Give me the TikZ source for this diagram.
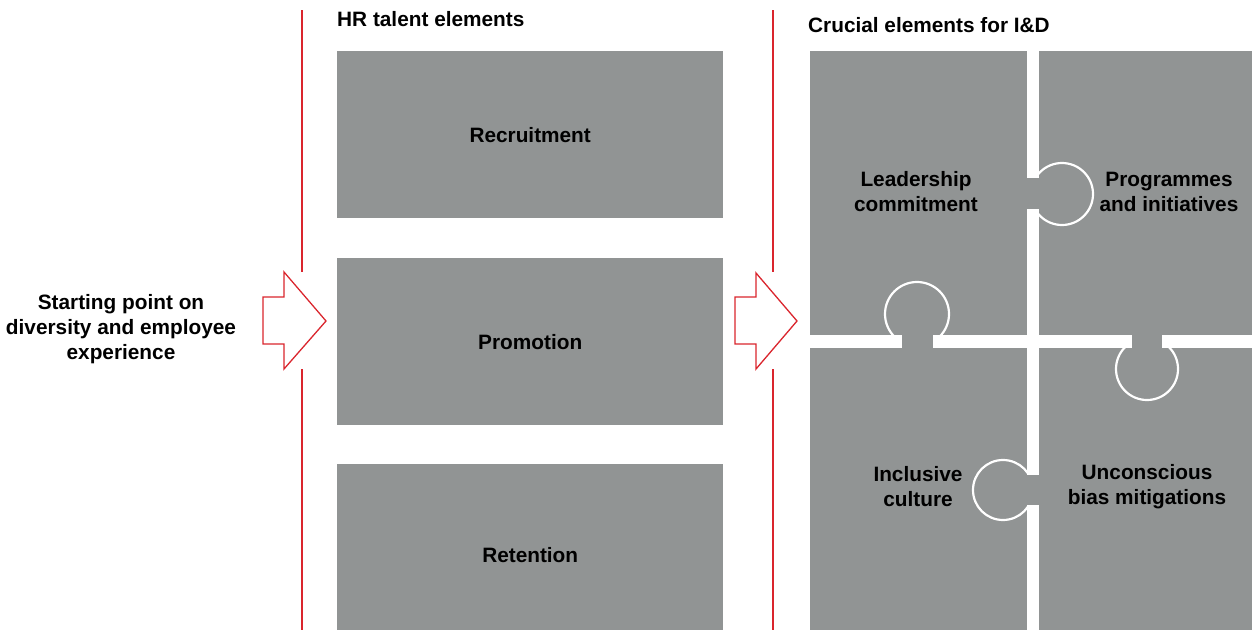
\documentclass[tikz,border=0pt]{standalone}
\usepackage{fontspec}
\setmainfont{Liberation Sans}

\definecolor{boxgrey}{RGB}{145,148,148}
\definecolor{linered}{RGB}{218,37,45}

\begin{document}
\begin{tikzpicture}[
            x = 1pt, y = -1pt, % pixel units, y pointing down
            font = \bfseries\fontsize{20.8}{25}\selectfont,
            line join = miter % sharp arrow corners
        ]

        \tikzstyle{hrbox}=[
            fill = boxgrey,
            anchor = north west,
            inner sep = 0pt,
            minimum width = 386pt,
            minimum height = 167pt
        ]
        \tikzstyle{piece}=[
            fill = boxgrey,
            anchor = north west,
            inner sep = 0pt,
            minimum height = 284pt
        ]
        \tikzstyle{tab}=[fill = boxgrey, draw = white, line width = 2.2pt]
        \tikzstyle{divider}=[draw = linered, line width = 1.2pt]
        \tikzstyle{blockarrow}=[draw = linered, fill = white, line width = 1.3pt]

        \clip (0,0) rectangle (1252,629);

        % left text
        \node[align = center] (start) at (121,329) {Starting point on\\diversity and employee\\experience};

        % dividers
        \draw[divider] (302,10) -- (302,272);
        \draw[divider] (302,369) -- (302,640);
        \draw[divider] (773,10) -- (773,272);
        \draw[divider] (773,369) -- (773,640);

        % arrows
        \draw[blockarrow] (263,297) -- (284,297) -- (284,272) -- (326,321)
            -- (284,369) -- (284,344) -- (263,344) -- cycle;
        \draw[blockarrow] (735,297) -- (756,297) -- (756,273) -- (797,321)
            -- (756,369) -- (756,344) -- (735,344) -- cycle;

        % HR talent elements
        \node[anchor = base west, inner sep = 0pt] (hrtitle) at (337,27) {HR talent elements};
        \node[hrbox] (recruit) at (337,51) {Recruitment};
        \node[hrbox] (promo) at (337,258) {Promotion};
        \node[hrbox, minimum height = 182pt] (retain) at (337,464) {Retention};

        % crucial elements, puzzle
        \node[anchor = base west, inner sep = 0pt] (idtitle) at (808,32) {Crucial elements for I\&D};
        \node[piece, minimum width = 217pt] (tl) at (810,51) {};
        \node[piece, minimum width = 213pt] (tr) at (1039,51) {};
        \node[piece, minimum width = 217pt, minimum height = 290pt] (bl) at (810,348) {};
        \node[piece, minimum width = 213pt, minimum height = 290pt] (br) at (1039,348) {};

        \draw[tab] (1062,194) circle (31pt);
        \draw[tab] (917,314) circle (32pt);
        \draw[tab] (1147,369) circle (31pt);
        \draw[tab] (1003,490) circle (30pt);

        % gaps between pieces
        \fill[white] (tl.north east) rectangle (br.south west);
        \fill[white] (tl.south west) rectangle (tr.south east |- bl.north);

        % necks of the tabs
        \fill[boxgrey] (1018,178) rectangle (1046,209);
        \fill[boxgrey] (902,330) rectangle (933,352);
        \fill[boxgrey] (1132,330) rectangle (1162,352);
        \fill[boxgrey] (1022,475) rectangle (1046,505);

        \node[align = center] (lead) at (916,192) {Leadership\\commitment};
        \node[align = center] (prog) at (1169,192) {Programmes\\and initiatives};
        \node[align = center] (incl) at (918,487) {Inclusive\\culture};
        \node[align = center] (bias) at (1147,487) {Unconscious\\bias mitigations};

  \end{tikzpicture}
\end{document}
